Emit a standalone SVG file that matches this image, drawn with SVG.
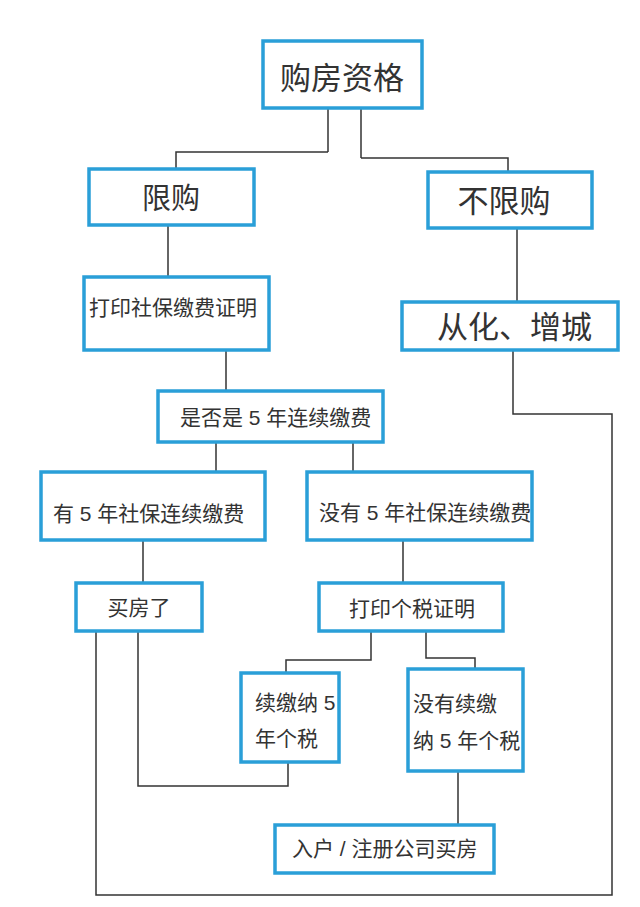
<svg xmlns="http://www.w3.org/2000/svg" width="640" height="907" viewBox="0 0 640 907">
<style>
.box{fill:#fff;stroke:#2a9fd8;stroke-width:3.5}
.t{font-family:"Liberation Sans","Noto Sans CJK SC",sans-serif;fill:#333}
.big{font-size:31px}
.mid{font-size:21px}
.c{fill:none;stroke:#333;stroke-width:1.5}
.g{fill:none;stroke:#666;stroke-width:2}
</style>
<rect width="640" height="907" fill="#fff"/>
<g id="connectors">
<polyline class="g" points="328,108 328,152"/>
<polyline class="c" points="328,152 176,152 176,177"/>
<polyline class="g" points="361,108 361,158"/>
<polyline class="c" points="361,158 508,158 508,177"/>
<polyline class="g" points="168,225 168,277"/>
<polyline class="g" points="517,228 517,302"/>
<polyline class="c" points="226,350 226,391"/>
<polyline class="g" points="216,442 216,472"/>
<polyline class="c" points="353,442 353,472"/>
<polyline class="c" points="143,540 143,583"/>
<polyline class="c" points="403,540 403,583"/>
<polyline class="c" points="371,631 371,660 286,660 286,682"/>
<polyline class="c" points="426,631 426,658 475,658 475,668"/>
<polyline class="c" points="138,631 138,786 288,786 288,762"/>
<polyline class="c" points="96,631 96,895 612,895 612,414 513,414 513,350"/>
<polyline class="c" points="458,771 458,825"/>
</g>
<g id="n1"><rect class="box" x="263" y="41" width="159" height="67"/><text class="t big" x="342" y="88.5" text-anchor="middle">购房资格</text></g>
<g id="n2"><rect class="box" x="89" y="169" width="165" height="56"/><text class="t" style="font-size:29px" x="171" y="209" text-anchor="middle">限购</text></g>
<g id="n3"><rect class="box" x="428" y="172" width="164" height="56"/><text class="t big" x="504" y="211.5" text-anchor="middle">不限购</text></g>
<g id="n4"><rect class="box" x="84" y="277" width="185" height="73"/><text class="t mid" x="89" y="314.5">打印社保缴费证明</text></g>
<g id="n5"><rect class="box" x="402" y="302" width="216" height="48"/><text class="t big" x="437" y="338">从化、增城</text></g>
<g id="n6"><rect class="box" x="158" y="391" width="225" height="51"/><text class="t mid" x="180" y="424.5" xml:space="preserve">是否是 5 年连续缴费</text></g>
<g id="n7"><rect class="box" x="41" y="472" width="224" height="68"/><text class="t mid" x="53" y="521" xml:space="preserve">有 5 年社保连续缴费</text></g>
<g id="n8"><rect class="box" x="307" y="472" width="225" height="68"/><text class="t mid" x="319" y="519.5" xml:space="preserve">没有 5 年社保连续缴费</text></g>
<g id="n9"><rect class="box" x="76" y="583" width="126" height="48"/><text class="t mid" x="139" y="614.5" text-anchor="middle">买房了</text></g>
<g id="n10"><rect class="box" x="319" y="583" width="184" height="48"/><text class="t mid" x="412" y="616" text-anchor="middle">打印个税证明</text></g>
<g id="n11"><rect class="box" x="241" y="673" width="98" height="89"/><text class="t mid" x="255" y="709.5" xml:space="preserve">续缴纳 5</text><text class="t mid" x="255" y="746">年个税</text></g>
<g id="n12"><rect class="box" x="408" y="669" width="115" height="102"/><text class="t mid" x="413" y="711">没有续缴</text><text class="t mid" x="413" y="748" xml:space="preserve">纳 5 年个税</text></g>
<g id="n13"><rect class="box" x="275" y="825" width="219" height="48"/><text class="t mid" x="292" y="856" xml:space="preserve">入户 / 注册公司买房</text></g>
</svg>
